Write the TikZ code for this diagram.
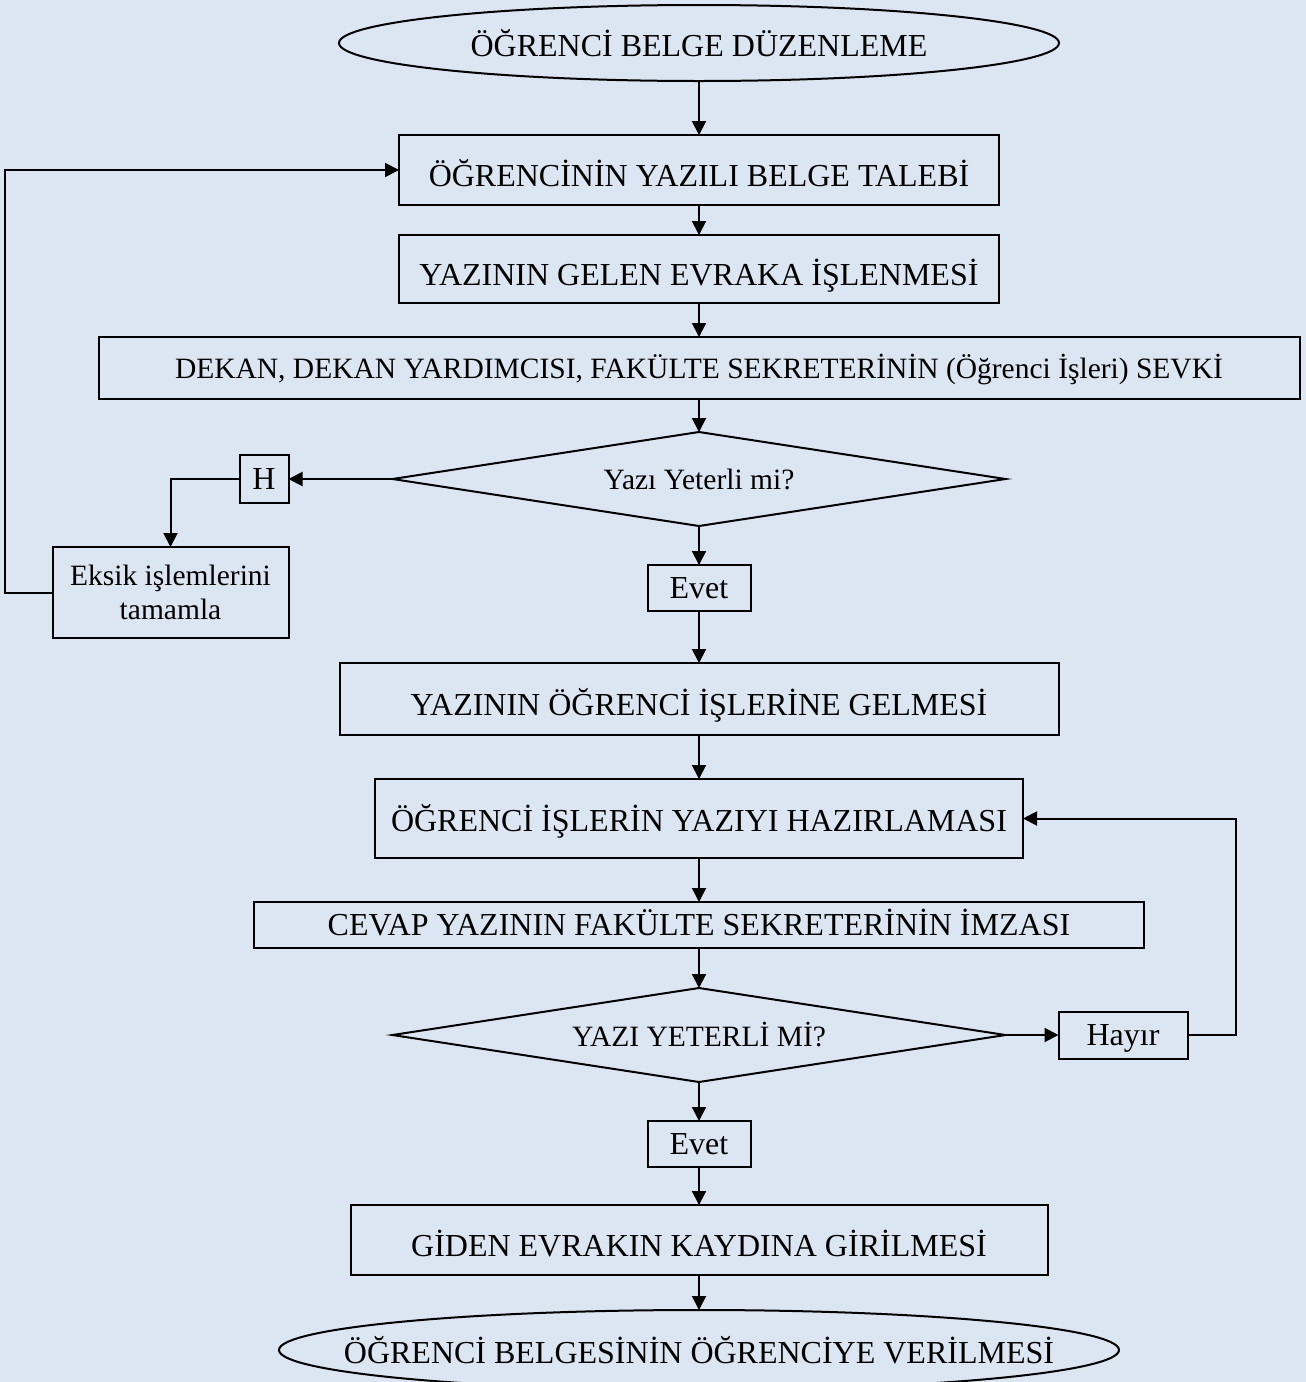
\documentclass[tikz,border=0pt]{standalone}
\usepackage{fontspec}
\setmainfont{Liberation Serif}
\usetikzlibrary{arrows.meta,shapes.geometric,positioning}
\definecolor{bgblue}{RGB}{220,230,242}
\tikzstyle{box}=[draw=black,rectangle,inner sep=0pt,outer sep=0pt,align=center,text height=33pt,text depth=0pt]
\tikzstyle{tag}=[draw=black,rectangle,inner sep=0pt,outer sep=0pt,text height=21pt,text depth=0pt]
\tikzstyle{term}=[draw=black,ellipse,inner sep=0pt,outer sep=0pt]
\tikzstyle{decide}=[draw=black,diamond,inner sep=0pt,outer sep=0pt,aspect=6.5,font=\fontsize{29.5}{34}\selectfont]
\tikzstyle{small}=[font=\fontsize{29.5}{34}\selectfont]
\tikzstyle{post}=[->,>={Triangle[length=14pt,width=14pt]}]

\begin{document}
\begin{tikzpicture}[x=1pt,y=1pt,line width=2pt,font=\fontsize{32}{36}\selectfont,post]

    \fill[bgblue] (0,0) rectangle (1306,-1382);
    \useasboundingbox (0,0) rectangle (1306,-1382);

    \node[term,minimum width=720pt,minimum height=76pt] (start) at (699,-43) {\makebox[0pt]{ÖĞRENCİ BELGE DÜZENLEME}};
    \node[box,minimum width=600pt,minimum height=70pt]  (talep)  [below=54pt of start]  {ÖĞRENCİNİN YAZILI BELGE TALEBİ};
    \node[box,minimum width=600pt,minimum height=68pt]  (evrak)  [below=30pt of talep]  {YAZININ GELEN EVRAKA İŞLENMESİ};
    \node[tag,small,minimum width=1201pt,minimum height=62pt] (sevk) [below=34pt of evrak] {DEKAN, DEKAN YARDIMCISI, FAKÜLTE SEKRETERİNİN (Öğrenci İşleri) SEVKİ};
    \node[decide,minimum width=613pt,minimum height=94pt] (yeter) [below=33pt of sevk]  {Yazı Yeterli mi?};
    \node[tag,minimum width=49pt,minimum height=48pt]   (hayir1) [left=104pt of yeter]  {H};
    \node[draw=black,inner sep=0pt,outer sep=0pt,align=center,small,minimum width=236pt,minimum height=91pt] (eksik) [below left=44pt and 0pt of hayir1.south east] {Eksik işlemlerini\\tamamla};
    \node[tag,minimum width=103pt,minimum height=46pt]  (evet1)  [below=39pt of yeter]  {Evet};
    \node[box,minimum width=719pt,minimum height=72pt]  (gelme)  [below=52pt of evet1]  {YAZININ ÖĞRENCİ İŞLERİNE GELMESİ};
    \node[box,text height=26pt,minimum width=648pt,minimum height=79pt] (hazir) [below=44pt of gelme] {ÖĞRENCİ İŞLERİN YAZIYI HAZIRLAMASI};
    \node[tag,minimum width=890pt,minimum height=46pt]  (imza)   [below=44pt of hazir]  {CEVAP YAZININ FAKÜLTE SEKRETERİNİN İMZASI};
    \node[decide,minimum width=613pt,minimum height=94pt] (yeter2) [below=40pt of imza] {YAZI YETERLİ Mİ?};
    \node[tag,minimum width=129pt,minimum height=47pt]  (hayir2) [right=53pt of yeter2] {Hayır};
    \node[tag,minimum width=103pt,minimum height=46pt]  (evet2)  [below=39pt of yeter2] {Evet};
    \node[box,minimum width=697pt,minimum height=70pt]  (giden)  [below=38pt of evet2]  {GİDEN EVRAKIN KAYDINA GİRİLMESİ};
    \node[term,minimum width=840pt,minimum height=80pt] (son)    [below=35pt of giden]  {\makebox[0pt]{ÖĞRENCİ BELGESİNİN ÖĞRENCİYE VERİLMESİ}};

    \path (start) edge (talep);
    \path (talep) edge (evrak);
    \path (evrak) edge (sevk);
    \path (sevk) edge (yeter);
    \path (yeter) edge (hayir1);
    \path (yeter) edge (evet1);
    \path (evet1) edge (gelme);
    \path (gelme) edge (hazir);
    \path (hazir) edge (imza);
    \path (imza) edge (yeter2);
    \path (yeter2) edge (hayir2);
    \path (yeter2) edge (evet2);
    \path (evet2) edge (giden);
    \path (giden) edge (son);

    % geri donusler
    \draw (hayir1.west) -| (eksik.north);
    \draw (eksik.west) -- ++(-48,0) |- (talep.west);
    \draw (hayir2.east) -- ++(48,0) |- (hazir.east);

\end{tikzpicture}
\end{document}
